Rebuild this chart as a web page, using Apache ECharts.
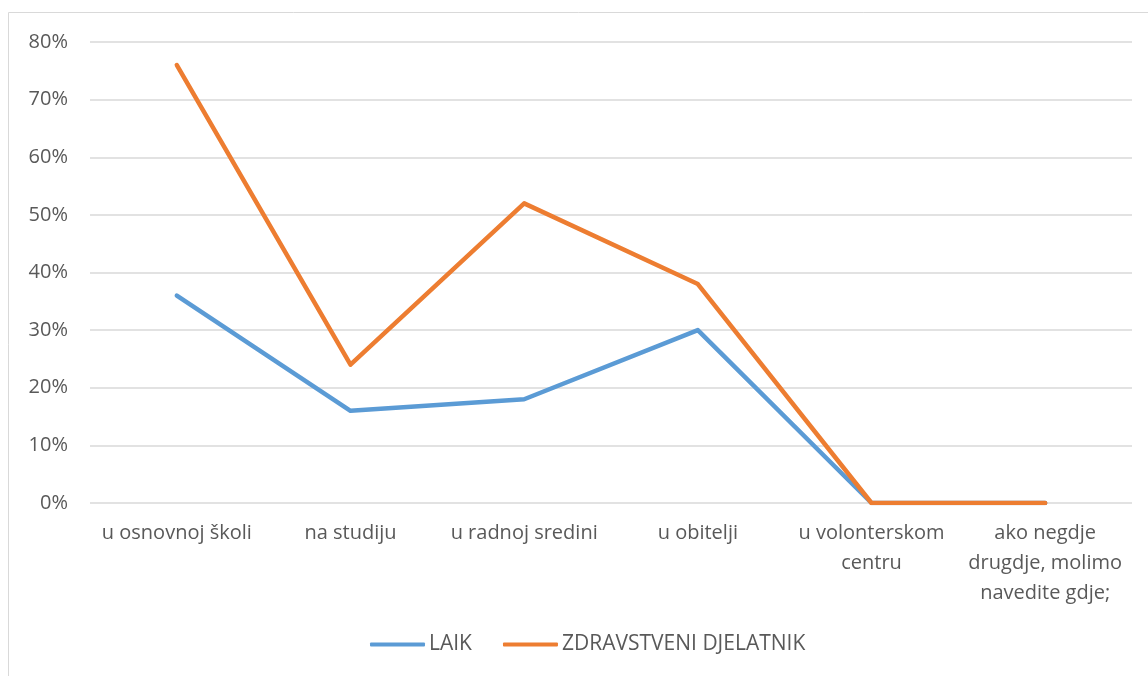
<!DOCTYPE html>
<html>
<head>
<meta charset="utf-8">
<script src="https://cdn.jsdelivr.net/npm/echarts@6/dist/echarts.min.js"></script>
<style>
  html, body { margin: 0; padding: 0; background: #fff; }
  #main { width: 1148px; height: 676px; }
</style>
</head>
<body>
<div id="main"></div>
<script>
// podaci
const categories = ['u osnovnoj školi', 'na studiju', 'u radnoj sredini', 'u obitelji', 'u volonterskom\ncentru', 'ako negdje\ndrugdje, molimo\nnavedite gdje;']
const laik = [36, 16, 18, 30, 0, 0]
const zdravstveni = [76, 24, 52, 38, 0, 0]
const seriesNames = ['LAIK', 'ZDRAVSTVENI DJELATNIK']

const chartDom = document.getElementById('main')
const myChart = echarts.init(chartDom)

const textColor = '#595959'
const font = 'Open Sans'
const fontSize = 20

const option = {
  animation: false,
  graphic: [{
    type: 'rect',
    shape: { x: 8.5, y: 12.5, width: 1300, height: 800 },
    style: { fill: 'none', stroke: '#d9d9d9', lineWidth: 1 },
    silent: true
  }],
  grid: { left: 90, right: 16, top: 42, bottom: 173, containLabel: false },
  legend: {
    left: 365,
    bottom: 16,
    itemWidth: 55,
    itemHeight: 4,
    itemGap: 31,
    icon: 'roundRect',
    textStyle: { color: textColor, fontFamily: font, fontSize: 21, padding: [0, 0, 0, -1] },
    data: seriesNames
  },
  xAxis: {
    type: 'category',
    data: categories,
    boundaryGap: true,
    axisLine: { show: false },
    axisTick: { show: false },
    axisLabel: {
      color: textColor, fontFamily: font, fontSize: fontSize,
      lineHeight: 30, margin: 15, interval: 0
    }
  },
  yAxis: {
    type: 'value',
    min: 0, max: 80, interval: 10,
    axisLabel: {
      color: textColor, fontFamily: font, fontSize: fontSize, margin: 22,
      formatter: v => v + '%'
    },
    splitLine: { lineStyle: { color: '#d9d9d9', width: 1.5 } }
  },
  series: [
    {
      name: seriesNames[0], type: 'line', data: laik,
      symbol: 'none', color: '#5b9bd5',
      lineStyle: { width: 4.5, cap: 'round', join: 'round' }
    },
    {
      name: seriesNames[1], type: 'line', data: zdravstveni,
      symbol: 'none', color: '#ed7d31',
      lineStyle: { width: 4.5, cap: 'round', join: 'round' }
    }
  ]
}

option && myChart.setOption(option)
</script>
</body>
</html>
